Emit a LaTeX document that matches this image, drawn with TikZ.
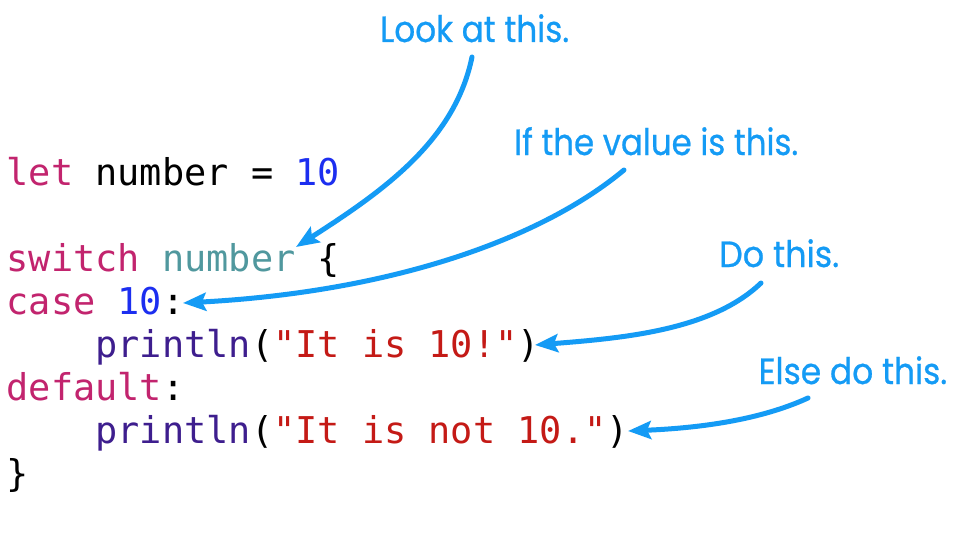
\documentclass[tikz,border=0pt]{standalone}
\usepackage{fontspec}
\usetikzlibrary{arrows.meta}
\newfontfamily\codefont{DejaVu Sans Mono}
\newfontfamily\labfont{Poppins}[FakeBold=0.7]
\definecolor{kw}{RGB}{194,36,110}
\definecolor{idn}{RGB}{80,152,158}
\definecolor{num}{RGB}{28,46,240}
\definecolor{fn}{RGB}{62,30,142}
\definecolor{str}{RGB}{196,26,22}
\definecolor{lab}{RGB}{20,155,245}
\begin{document}
\begin{tikzpicture}[x=1pt,y=-1pt,
  codeline/.style={anchor=base west,inner sep=0pt,font=\codefont\fontsize{36.9}{43}\selectfont},
  calloutlab/.style={anchor=base west,inner sep=0pt,text=lab,font=\labfont\fontsize{36.5}{40}\selectfont},
  pointer/.style={draw=lab,line width=5pt,line cap=round,-{Stealth[length=23pt,width=18pt,inset=4pt]}}]
\fill[white] (0,0) rectangle (953,543);
\useasboundingbox (0,0) rectangle (953,543);

% code
\node[codeline] (l1) at (6.5,185) {\textcolor{kw}{let} number = \textcolor{num}{10}};
\node[codeline] (l3) at (6.5,271) {\textcolor{kw}{switch} \textcolor{idn}{number} \{};
\node[codeline] (l4) at (6.5,314) {\textcolor{kw}{case} \textcolor{num}{10}:};
\node[codeline] (l5) at (6.5,357) {\hphantom{xxxx}\textcolor{fn}{println}(\textcolor{str}{"It is 10!"})};
\node[codeline] (l6) at (6.5,400) {\textcolor{kw}{default}:};
\node[codeline] (l7) at (6.5,443) {\hphantom{xxxx}\textcolor{fn}{println}(\textcolor{str}{"It is not 10."})};
\node[codeline] (l8) at (6.5,486) {\}};

% callouts
\node[calloutlab] (c1) at (380,42) {\resizebox{189pt}{\height}{Look at this.}};
\node[calloutlab] (c2) at (514,155) {\resizebox{284pt}{\height}{If the value is this.}};
\node[calloutlab] (c3) at (719,267) {\resizebox{120pt}{\height}{Do this.}};
\node[calloutlab] (c4) at (758.5,384) {\resizebox{188.5pt}{\height}{Else do this.}};

% arrow ends
\coordinate (t1) at (472,57);   \coordinate (h1) at (296,247);
\coordinate (t2) at (624,170);  \coordinate (h2) at (183,303);
\coordinate (t3) at (761,283);  \coordinate (h3) at (535,345);
\coordinate (t4) at (808,398);  \coordinate (h4) at (628,431);

\draw[pointer] (t1) .. controls (455,140) and (385,190) .. (h1);
\draw[pointer] (t2) .. controls (540,240) and (390,292) .. (h2);
\draw[pointer] (t3) .. controls (712,330) and (625,338) .. (h3);
\draw[pointer] (t4) .. controls (760,420) and (700,428) .. (h4);
\end{tikzpicture}
\end{document}
